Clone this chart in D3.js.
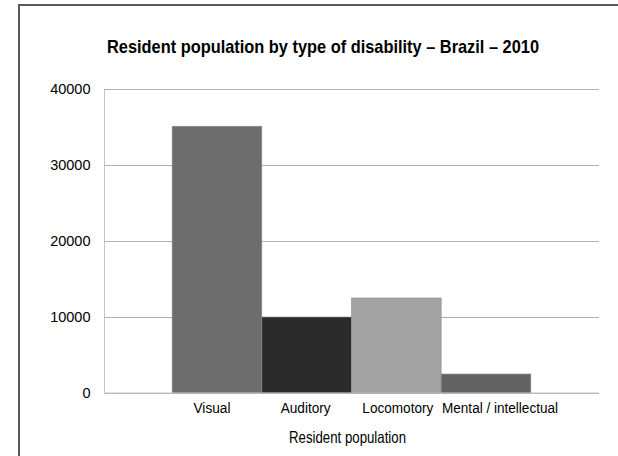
<!DOCTYPE html>
<html>
<head>
<meta charset="utf-8">
<script src="https://cdn.jsdelivr.net/npm/d3@7"></script>
<style>
  html, body { margin: 0; padding: 0; background: #fff; }
  svg { display: block; }
  text { font-family: "Liberation Sans", Arial, sans-serif; fill: #000; }
</style>
</head>
<body>
<svg id="chart" width="618" height="456"></svg>
<script>
const categories = ["Resident population"];
const seriesNames = ["Visual", "Auditory", "Locomotory", "Mental / intellectual"];
const seriesValues = [35100, 10000, 12500, 2500];
const seriesColors = ["#6d6d6d", "#2b2b2b", "#a3a3a3", "#636363"];
const yTicks = [0, 10000, 20000, 30000, 40000];
const title = "Resident population by type of disability \u2013 Brazil \u2013 2010";
const xTitle = "Resident population";

// condensed-text widths (the original uses a narrow face)
const labelWidths = [37, 50, 71, 116];
const labelShift = [-5, -1, 1.5, 14];

const svg = d3.select("#chart");
const W = 618, H = 456;
const m = { left: 104, right: 19, top: 89, bottom: 63 };
const FONT = '"Liberation Sans", Arial, sans-serif';

svg.append("rect").attr("x", 0).attr("y", 0).attr("width", W).attr("height", H).attr("fill", "#fff");
// outer frame
svg.append("rect").attr("x", 19).attr("y", 5).attr("width", 700).attr("height", 600)
  .attr("fill", "none").attr("stroke", "#5a5a5a").attr("stroke-width", 2);

const y = d3.scaleLinear().domain([0, 40000]).range([H - m.bottom, m.top]);
const x0 = d3.scaleBand().domain(categories).range([m.left, W - m.right]).paddingInner(0).paddingOuter(0.19);
const x1 = d3.scaleBand().domain(seriesNames).range([0, x0.bandwidth()]).padding(0);

// gridlines + y tick labels
const yAxis = d3.axisLeft(y).tickValues(yTicks).tickSize(-(W - m.left - m.right)).tickPadding(13.5).tickFormat(d3.format("d"));
const gy = svg.append("g").attr("transform", `translate(${m.left},0)`).call(yAxis);
gy.select(".domain").attr("stroke", "#c4c4c4");
gy.selectAll(".tick line").attr("stroke", "#b0b0b0").attr("stroke-width", 1);
gy.selectAll(".tick text").attr("font-size", 14.5).attr("font-family", FONT).attr("fill", "#000");

// bars
const g = svg.append("g").attr("transform", `translate(${x0(categories[0])},0)`);
g.selectAll("rect.bar").data(seriesNames).join("rect")
  .attr("class", "bar")
  .attr("x", d => x1(d))
  .attr("y", (d, i) => y(seriesValues[i]))
  .attr("width", x1.bandwidth())
  .attr("height", (d, i) => y(0) - y(seriesValues[i]))
  .attr("fill", (d, i) => seriesColors[i])
  .attr("stroke", "#8c8c8c").attr("stroke-width", 0.6);

// baseline
svg.append("line").attr("x1", m.left).attr("x2", W - m.right).attr("y1", y(0)).attr("y2", y(0))
  .attr("stroke", "#c4c4c4").attr("stroke-width", 1.2);

// series labels as x axis
const xAxis = d3.axisBottom(x1).tickSize(0).tickPadding(9);
const gx = svg.append("g").attr("transform", `translate(${x0(categories[0])},${y(0)})`).call(xAxis);
gx.select(".domain").remove();
gx.selectAll(".tick text")
  .attr("font-size", 15.5).attr("font-family", FONT).attr("fill", "#000")
  .attr("y", 20).attr("dy", null)
  .attr("dx", (d, i) => labelShift[i])
  .attr("textLength", (d, i) => labelWidths[i])
  .attr("lengthAdjust", "spacingAndGlyphs");

// x title
svg.append("text").attr("x", x0(categories[0]) + x0.bandwidth() / 2 - 4).attr("y", 443)
  .attr("text-anchor", "middle").attr("font-size", 16.5)
  .attr("textLength", 117).attr("lengthAdjust", "spacingAndGlyphs").text(xTitle);

// title
svg.append("text").attr("x", 323).attr("y", 53)
  .attr("text-anchor", "middle").attr("font-size", 19).attr("font-weight", "bold")
  .attr("textLength", 432).attr("lengthAdjust", "spacingAndGlyphs").text(title);
</script>
</body>
</html>
